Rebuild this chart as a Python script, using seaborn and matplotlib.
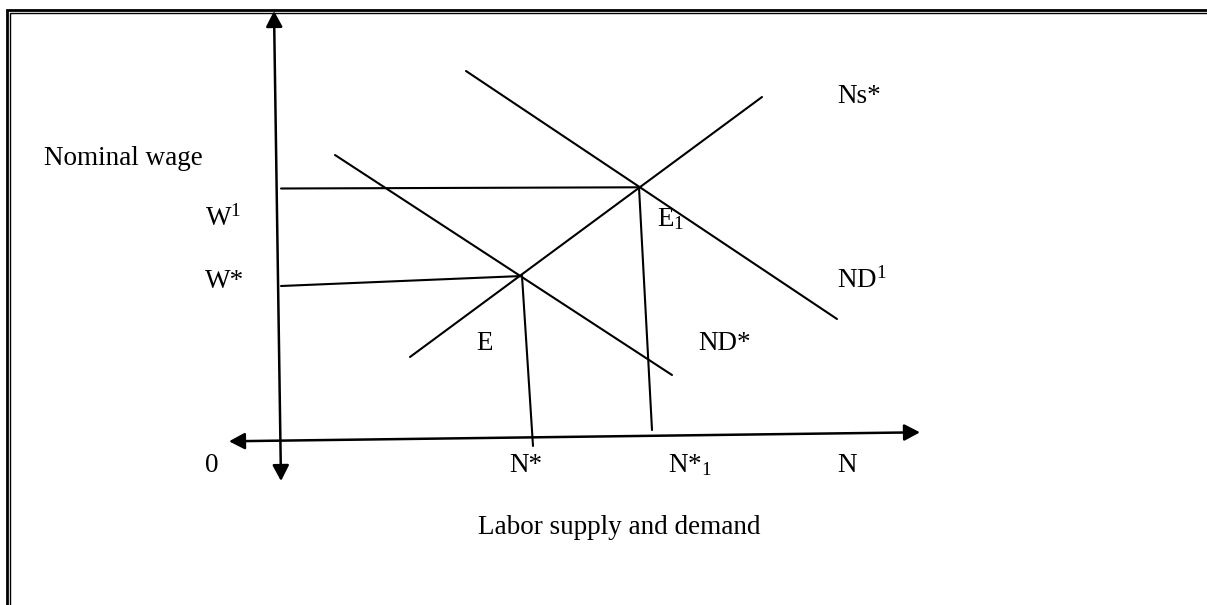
import matplotlib
matplotlib.use("Agg")
import matplotlib.pyplot as plt
import seaborn as sns
import pandas as pd

# Curve endpoints in drawing units (x to the right, y downward)
supply_x = [410, 762]
supply_y = [357, 97]
demand0_x = [335, 672]
demand0_y = [155, 375]
demand1_x = [466, 837]
demand1_y = [71, 319]

# Wage guide lines and employment drop lines
wage1_x = [281, 639]
wage1_y = [188.5, 187.3]
wage0_x = [281, 522]
wage0_y = [286, 276]
emp0_x = [522, 533]
emp0_y = [276, 446]
emp1_x = [639, 652]
emp1_y = [187.3, 430]

# Axes with arrowheads at both ends
yaxis_x = [274, 281]
yaxis_y = [11, 481]
xaxis_x = [229, 920]
xaxis_y = [441.3, 432.3]

# Labels: text, left x, baseline y
label_text = ["Nominal wage", r"W$^{\mathrm{1}}$", "W*", "0", "N*", r"N*$_{\mathrm{1}}$", "N",
              "Ns*", r"ND$^{\mathrm{1}}$", "ND*", "E", r"E$_{\mathrm{1}}$"]
label_x = [44, 205, 205, 205, 509, 668, 837, 837, 837, 698, 476, 657]
label_y = [165, 226, 288, 472, 472, 472, 472, 103, 288, 350, 350, 226]
x_title = "Labor supply and demand"

sns.set_theme(style="white")
plt.rcParams["font.family"] = ["Liberation Serif", "DejaVu Serif"]
plt.rcParams["mathtext.fontset"] = "custom"
plt.rcParams["mathtext.rm"] = "Liberation Serif"
plt.rcParams["mathtext.it"] = "Liberation Serif:italic"

W, H = 1207, 605
fig = plt.figure(figsize=(W / 100, H / 100), dpi=100)
ax = fig.add_axes([0, 0, 1, 1])

# Double frame (thick outer rule, thin inner rule)
ax.plot([7.3, 7.3, W + 5], [H + 5, 10.3, 10.3], color="black", lw=2.0,
        solid_joinstyle="miter", solid_capstyle="butt")
ax.plot([10.0, 10.0, W + 5], [H + 5, 13.4, 13.4], color="black", lw=1.0,
        solid_joinstyle="miter", solid_capstyle="butt")

segments = [
    (supply_x, supply_y), (demand0_x, demand0_y), (demand1_x, demand1_y),
    (wage1_x, wage1_y), (wage0_x, wage0_y), (emp0_x, emp0_y), (emp1_x, emp1_y),
]
for xs, ys in segments:
    df = pd.DataFrame({"x": xs, "y": ys})
    sns.lineplot(data=df, x="x", y="y", ax=ax, color="black", lw=1.5,
                 sort=False, estimator=None)

ax.set_xlim(0, W)
ax.set_ylim(H, 0)
ax.axis("off")

arrow_style = "<|-|>,head_length=0.95,head_width=0.5"
for xs, ys in [(yaxis_x, yaxis_y), (xaxis_x, xaxis_y)]:
    ax.annotate("", xy=(xs[1], ys[1]), xytext=(xs[0], ys[0]),
                arrowprops=dict(arrowstyle=arrow_style, mutation_scale=10,
                                color="black", lw=1.8, shrinkA=0, shrinkB=0))

for t, x, y in zip(label_text, label_x, label_y):
    ax.text(x, y, t, fontsize=19.5, color="black", ha="left", va="baseline")

ax.text(619, 534, x_title, fontsize=19.5, color="black", ha="center", va="baseline")

fig.savefig("out.png", dpi=100, facecolor="white")
